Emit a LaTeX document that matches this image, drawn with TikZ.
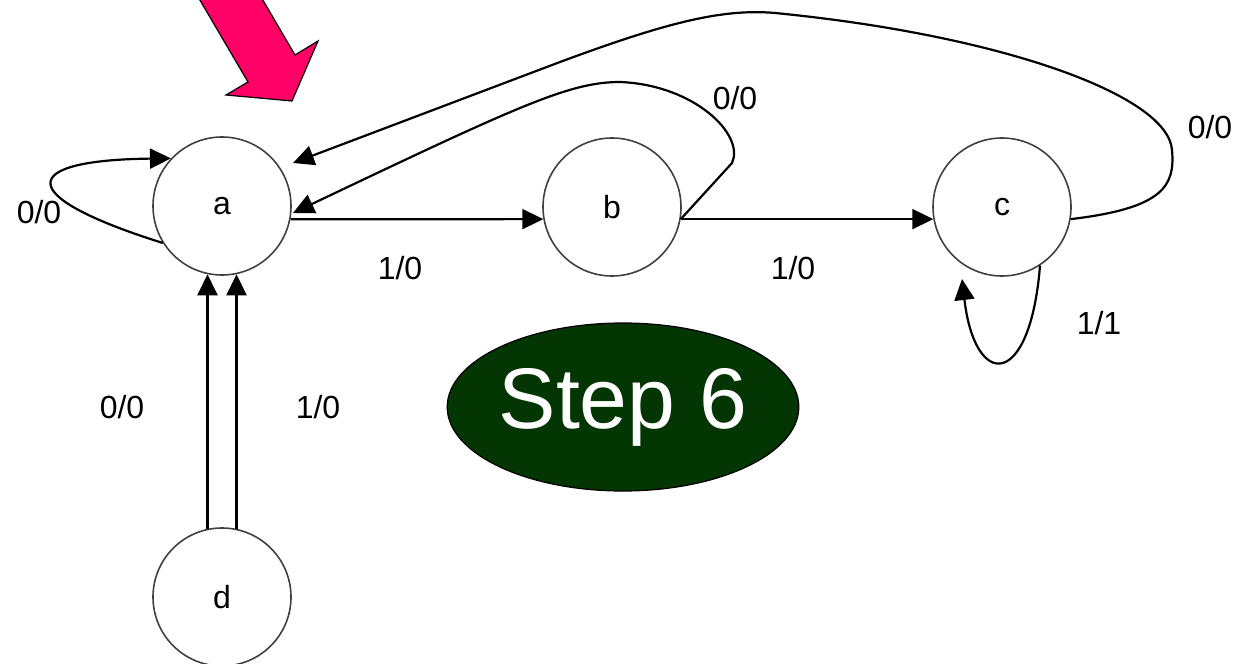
\documentclass[tikz,border=0pt]{standalone}
\usepackage{fontspec}
\setmainfont{Liberation Sans}
\usetikzlibrary{arrows.meta,shapes.geometric}
\definecolor{pinkarrow}{RGB}{255,0,102}
\definecolor{stepgreen}{RGB}{3,54,3}
\begin{document}
\begin{tikzpicture}[x=0.5pt,y=-0.5pt,
  state/.style={circle,draw=black!75,line width=0.8pt,minimum size=69pt,inner sep=0pt,font=\fontsize{16}{19}\selectfont},
  lbl/.style={font=\fontsize{16}{19}\selectfont,inner sep=0pt},
  edge/.style={line width=1.1pt,-{Triangle[length=10.5pt,width=10pt]}},
  stepbox/.style={ellipse,draw=black,line width=0.6pt,fill=stepgreen,text=white,minimum width=136.5pt,minimum height=84pt,inner sep=0pt,font=\fontsize{43}{50}\selectfont},
]
\useasboundingbox (0,0) rectangle (1235,663);

% pointer arrow
\draw[fill=pinkarrow,draw=black,line width=0.6pt] (194,-10) -- (257,-10) -- (295,55) -- (318,41) -- (292,101) -- (226,95) -- (248,82) -- cycle;

% states
\node[state] (a) at (222,206) {a};
\node[state] (b) at (612,207) {b};
\node[state] (c) at (1002,207) {c};
\node[state] (d) at (222,597) {d};
\node[stepbox] (step) at (623,407) {Step 6};

% free ends
\coordinate (aout) at (293,163);
\coordinate (ain) at (293,213);
\coordinate (cin) at (962,279);

% a self loop
\draw[edge] (a.212) .. controls (10,195) and (20,160) .. (a.137);

% a -> b, b -> c
\draw[edge] (a.-11) -- (b.190);
\draw[edge] (b.-10) -- (c.190);

% b -> a
\draw[edge] (b.-10) -- (732,163) .. controls (745,135) and (695,85) .. (620,82)
  .. controls (570,82) and (520,105) .. (ain);

% c -> a
\draw[edge] (c.-10) .. controls (1165,208) and (1175,185) .. (1172,150)
  .. controls (1168,95) and (1000,35) .. (775,13)
  .. controls (720,8) and (660,25) .. (560,62) -- (aout);

% c self loop
\draw[edge] (c.-57) .. controls (1030,390) and (975,390) .. (cin);

% d -> a
\draw[edge] (d.102) -- (a.258);
\draw[edge] (d.78) -- (a.282);

% labels
\node[lbl] (l1) at (39,212) {0/0};
\node[lbl] (l2) at (400,268) {1/0};
\node[lbl] (l3) at (793,268) {1/0};
\node[lbl] (l4) at (735,98) {0/0};
\node[lbl] (l5) at (1210,127) {0/0};
\node[lbl] (l6) at (1099,323) {1/1};
\node[lbl] (l7) at (122,407) {0/0};
\node[lbl] (l8) at (318,407) {1/0};
\end{tikzpicture}
\end{document}
